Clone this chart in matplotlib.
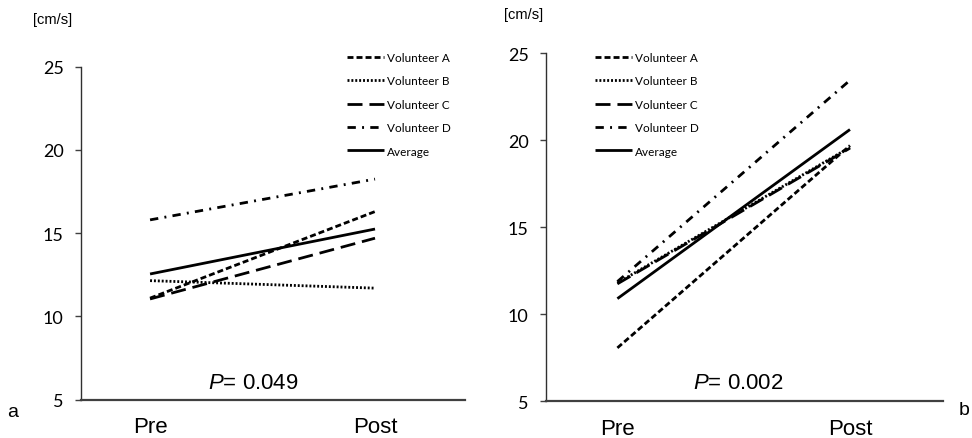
import matplotlib
matplotlib.use("Agg")
import matplotlib.pyplot as plt

plt.rcParams['lines.scale_dashes'] = False
plt.rcParams['mathtext.fontset'] = 'custom'
plt.rcParams['mathtext.it'] = 'Liberation Sans:italic'
plt.rcParams['mathtext.rm'] = 'Liberation Sans'

categories = ["Pre", "Post"]
series_names = ["Volunteer A", "Volunteer B", "Volunteer C", "Volunteer D", "Average"]

# Panel a
a_vol_A = [11.1, 16.3]
a_vol_B = [12.15, 11.7]
a_vol_C = [11.05, 14.7]
a_vol_D = [15.8, 18.25]
a_avg = [12.55, 15.25]

# Panel b
b_vol_A = [8.07, 19.7]
b_vol_B = [11.8, 19.6]
b_vol_C = [11.75, 19.55]
b_vol_D = [11.88, 23.45]
b_avg = [10.9, 20.62]

yticks = [5, 10, 15, 20, 25]
p_texts = ["0.049", "0.002"]
panel_labels = ["a", "b"]

styles = [
    (0, (4.3, 2.2)),
    (0, (1.4, 1.4)),
    (0, (10.8, 5.0)),
    (0, (6.0, 4.5, 1.4, 4.5)),
    "-",
]

fig = plt.figure(figsize=(9.72, 4.39), dpi=100)
ax_a = fig.add_axes([81/972, 1-400.7/439, (465-81)/972, (400.7-67.7)/439])
ax_b = fig.add_axes([546/972, 1-402.3/439, (943-546)/972, (402.3-54.3)/439])

panels = [
    (ax_a, [a_vol_A, a_vol_B, a_vol_C, a_vol_D, a_avg]),
    (ax_b, [b_vol_A, b_vol_B, b_vol_C, b_vol_D, b_avg]),
]

x = list(range(len(categories)))
for ax, data in panels:
    for name, vals, ls in zip(series_names, data, styles):
        ax.plot(x, vals, color="black", lw=2.0, linestyle=ls, label=name,
                solid_capstyle="butt", dash_capstyle="butt")
    ax.set_ylim(5, 25)
    ax.set_xlim(-0.307, 1.40)
    ax.set_yticks(yticks)
    ax.set_yticklabels([str(t) for t in yticks], fontfamily="Lato", fontsize=13)
    ax.set_xticks(x)
    ax.set_xticklabels(categories, fontfamily="Liberation Sans", fontsize=16)
    ax.tick_params(axis="x", length=0, pad=12)
    ax.tick_params(axis="y", length=4.5, width=1.0, pad=8, color="#404040")
    for s in ["top", "right"]:
        ax.spines[s].set_visible(False)
    ax.spines["left"].set_linewidth(1.0)
    ax.spines["left"].set_color("#303030")
    ax.spines["bottom"].set_linewidth(1.6)
    ax.spines["bottom"].set_color("#404040")

# legends
leg_kw = dict(frameon=False, loc="upper left", handlelength=3.1, handletextpad=0.3,
              labelspacing=1.05, borderaxespad=0, borderpad=0,
              prop={"family": "Lato", "size": 8.5})
ax_a.legend(bbox_to_anchor=(347/972, 1-53/439), bbox_transform=fig.transFigure, **leg_kw)
ax_b.legend(bbox_to_anchor=(595/972, 1-53/439), bbox_transform=fig.transFigure, **leg_kw)

# P values
ax_a.text(0.448, 0.053, r"$\it{P}$= " + p_texts[0], transform=ax_a.transAxes,
          ha="center", va="center", fontsize=16, fontfamily="Liberation Sans")
ax_b.text(0.484, 0.055, r"$\it{P}$= " + p_texts[1], transform=ax_b.transAxes,
          ha="center", va="center", fontsize=16, fontfamily="Liberation Sans")

# units
fig.text(33/972, 1-20/439, "[cm/s]", ha="left", va="center", fontsize=10.5, fontfamily="Liberation Sans")
fig.text(504/972, 1-15/439, "[cm/s]", ha="left", va="center", fontsize=10.5, fontfamily="Liberation Sans")

# panel letters
fig.text(13/972, 1-413/439, panel_labels[0], ha="center", va="center", fontsize=14, fontfamily="Liberation Sans")
fig.text(964/972, 1-411/439, panel_labels[1], ha="center", va="center", fontsize=14, fontfamily="Liberation Sans")

fig.savefig("out.png", dpi=100, facecolor="white")
